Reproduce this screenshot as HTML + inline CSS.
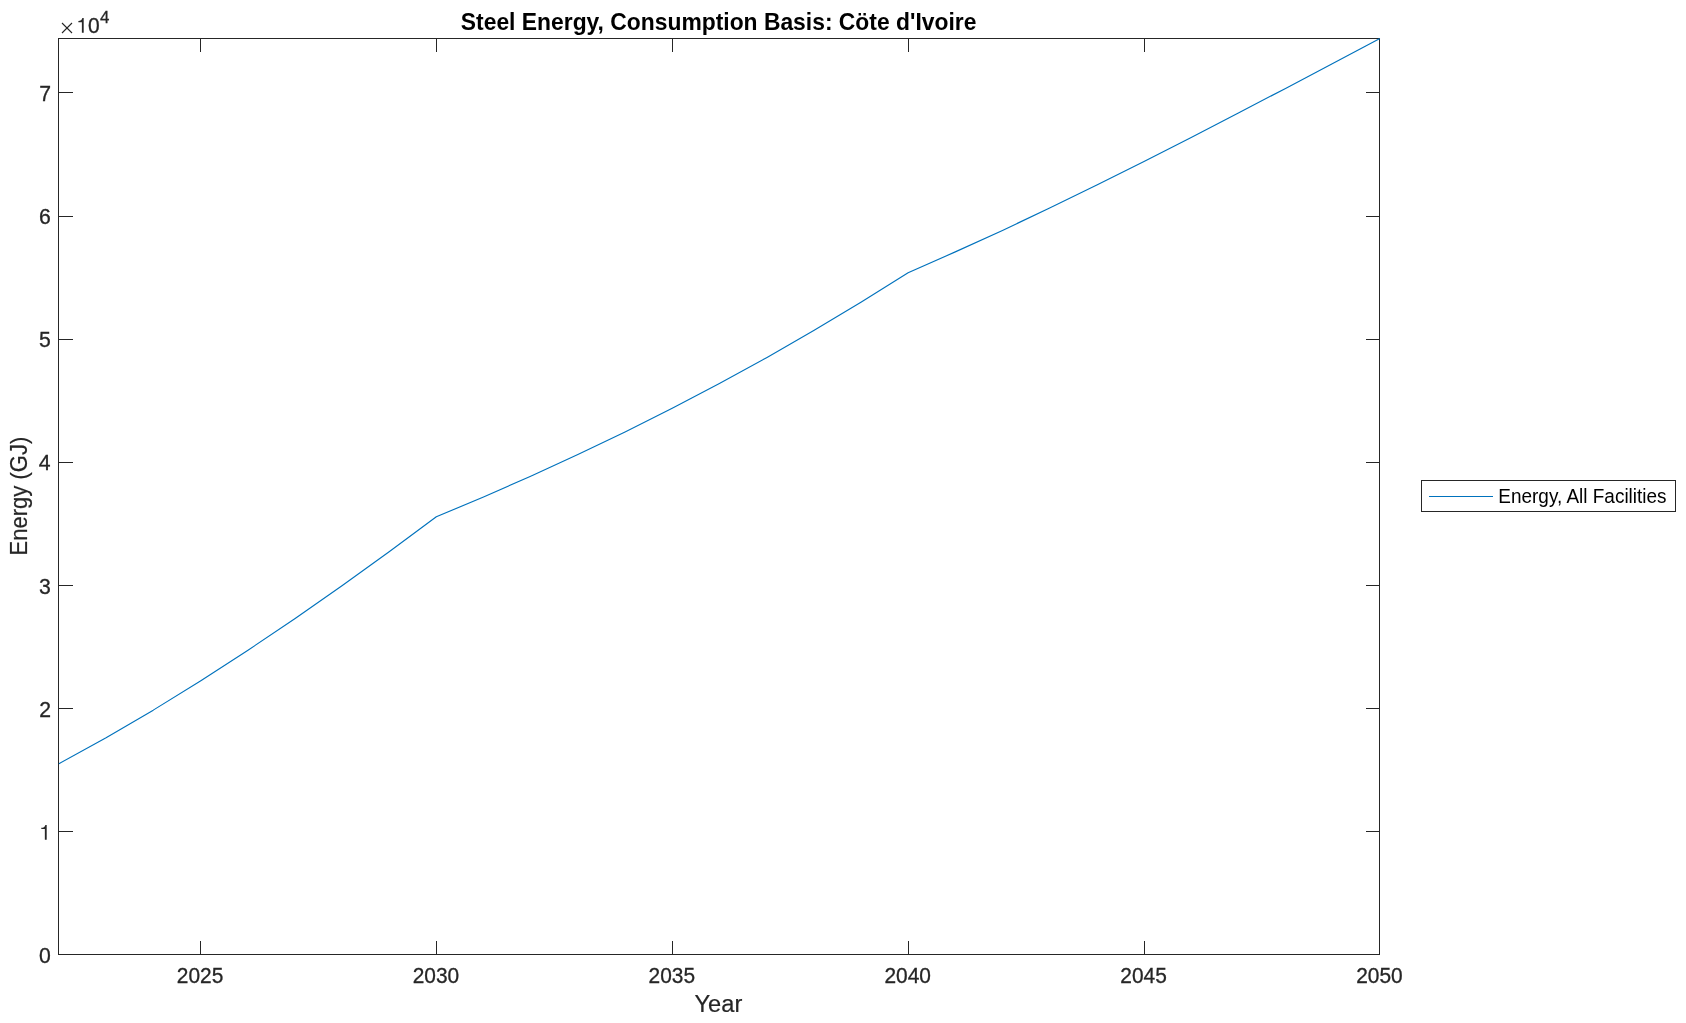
<!DOCTYPE html>
<html><head><meta charset="utf-8"><title>Steel Energy</title>
<style>
html,body{margin:0;padding:0;background:#fff;}
body{width:1686px;height:1023px;overflow:hidden;font-family:"Liberation Sans",sans-serif;}
svg{display:block;will-change:transform;}
text{font-family:"Liberation Sans",sans-serif;}
.tk{fill:#262626;stroke:#262626;stroke-width:0.3px;}
.lb{fill:#262626;stroke:#262626;stroke-width:0.2px;}
.tt{font-weight:bold;fill:#000;}
.lg{fill:#000;}
</style></head><body>
<svg width="1686" height="1023" viewBox="0 0 1686 1023">
<g fill="#262626" shape-rendering="crispEdges">
<rect x="58" y="38" width="1322" height="1"/>
<rect x="58" y="954" width="1322" height="1"/>
<rect x="58" y="38" width="1" height="917"/>
<rect x="1379" y="38" width="1" height="917"/>
<rect x="200" y="941" width="1" height="13"/>
<rect x="200" y="39" width="1" height="13"/>
<rect x="436" y="941" width="1" height="13"/>
<rect x="436" y="39" width="1" height="13"/>
<rect x="672" y="941" width="1" height="13"/>
<rect x="672" y="39" width="1" height="13"/>
<rect x="908" y="941" width="1" height="13"/>
<rect x="908" y="39" width="1" height="13"/>
<rect x="1144" y="941" width="1" height="13"/>
<rect x="1144" y="39" width="1" height="13"/>
<rect x="59" y="92" width="14" height="1"/>
<rect x="1366" y="92" width="13" height="1"/>
<rect x="59" y="216" width="14" height="1"/>
<rect x="1366" y="216" width="13" height="1"/>
<rect x="59" y="339" width="14" height="1"/>
<rect x="1366" y="339" width="13" height="1"/>
<rect x="59" y="462" width="14" height="1"/>
<rect x="1366" y="462" width="13" height="1"/>
<rect x="59" y="585" width="14" height="1"/>
<rect x="1366" y="585" width="13" height="1"/>
<rect x="59" y="708" width="14" height="1"/>
<rect x="1366" y="708" width="13" height="1"/>
<rect x="59" y="831" width="14" height="1"/>
<rect x="1366" y="831" width="13" height="1"/>
</g>
<polyline points="58.90,763.66 106.08,737.72 153.26,710.13 200.44,681.01 247.61,650.48 294.79,618.69 341.97,585.74 389.15,551.77 436.33,516.80 483.51,496.97 530.69,476.24 577.86,454.58 625.04,431.93 672.22,408.26 719.40,383.51 766.58,357.65 813.76,330.61 860.94,302.34 908.11,272.80 955.29,251.90 1002.47,230.40 1049.65,208.10 1096.83,185.10 1144.01,161.50 1191.19,137.50 1238.36,113.00 1285.54,88.40 1332.72,63.40 1379.90,38.50" fill="none" stroke="#0072BD" stroke-width="1.15" stroke-linejoin="round"/>
<text transform="translate(176.77,982.70) scale(0.9685,1)" class="tk" style="font-size:21.6px" >2025</text>
<text transform="translate(412.66,982.70) scale(0.9675,1)" class="tk" style="font-size:21.6px" >2030</text>
<text transform="translate(648.56,982.70) scale(0.9685,1)" class="tk" style="font-size:21.6px" >2035</text>
<text transform="translate(884.45,982.70) scale(0.9675,1)" class="tk" style="font-size:21.6px" >2040</text>
<text transform="translate(1120.34,982.70) scale(0.9685,1)" class="tk" style="font-size:21.6px" >2045</text>
<text transform="translate(1356.24,982.70) scale(0.9675,1)" class="tk" style="font-size:21.6px" >2050</text>
<text transform="translate(39.25,101.10) scale(1.0,1)" class="tk" style="font-size:21.2px">7</text>
<text transform="translate(39.10,223.70) scale(1.0,1)" class="tk" style="font-size:21.2px">6</text>
<text transform="translate(39.05,346.70) scale(1.0,1)" class="tk" style="font-size:21.2px">5</text>
<text transform="translate(38.80,469.70) scale(1.0,1)" class="tk" style="font-size:21.2px">4</text>
<text transform="translate(39.10,593.70) scale(1.0,1)" class="tk" style="font-size:21.2px">3</text>
<text transform="translate(39.25,716.80) scale(1.0,1)" class="tk" style="font-size:21.2px">2</text>
<path transform="translate(39.16,839.80) scale(21.000,-21.000)" d="M0.359,0 L0.271,0 L0.271,0.509 L0.102,0.509 L0.102,0.571 C0.200,0.575 0.275,0.610 0.296,0.709 L0.359,0.709 Z" fill="#262626"/>
<text transform="translate(39.00,962.70) scale(1.0,1)" class="tk" style="font-size:21.2px">0</text>
<text transform="translate(694.49,1011.80) scale(1.0285,1)" class="lb" style="font-size:23px" >Year</text>
<text transform="translate(460.85,29.80) scale(0.9941,1)" class="tt" style="font-size:23px" >Steel Energy, Consumption Basis: Cöte d'Ivoire</text>
<text transform="translate(1498.34,502.90) scale(0.9728,1)" class="lg" style="font-size:19.5px" >Energy, All Facilities</text>
<text transform="translate(27.0,555.49) rotate(-90) scale(0.9430,1)" class="lb" style="font-size:23.4px">Energy (GJ)</text>
<path transform="translate(76.27,32.75) scale(20.700,-20.700)" d="M0.359,0 L0.271,0 L0.271,0.509 L0.102,0.509 L0.102,0.571 C0.200,0.575 0.275,0.610 0.296,0.709 L0.359,0.709 Z" fill="#262626"/>
<text transform="translate(88.07,32.75) scale(0.9804,1)" class="tk" style="font-size:21.4px" >0</text>
<text transform="translate(99.89,22.90) scale(1.0180,1)" class="tk" style="font-size:16.6px" >4</text>
<!-- exponent multiplication sign -->
<g stroke="#262626" stroke-width="1.1"><line x1="62" y1="23" x2="72" y2="33"/><line x1="72" y1="23" x2="62" y2="33"/></g>
<!-- legend -->
<g fill="#262626" shape-rendering="crispEdges">
<rect x="1421" y="480" width="255" height="1"/><rect x="1421" y="511" width="255" height="1"/>
<rect x="1421" y="480" width="1" height="32"/><rect x="1675" y="480" width="1" height="32"/>
</g>
<rect x="1429" y="496" width="64" height="1" fill="#0072BD" shape-rendering="crispEdges"/>
</svg>
</body></html>
